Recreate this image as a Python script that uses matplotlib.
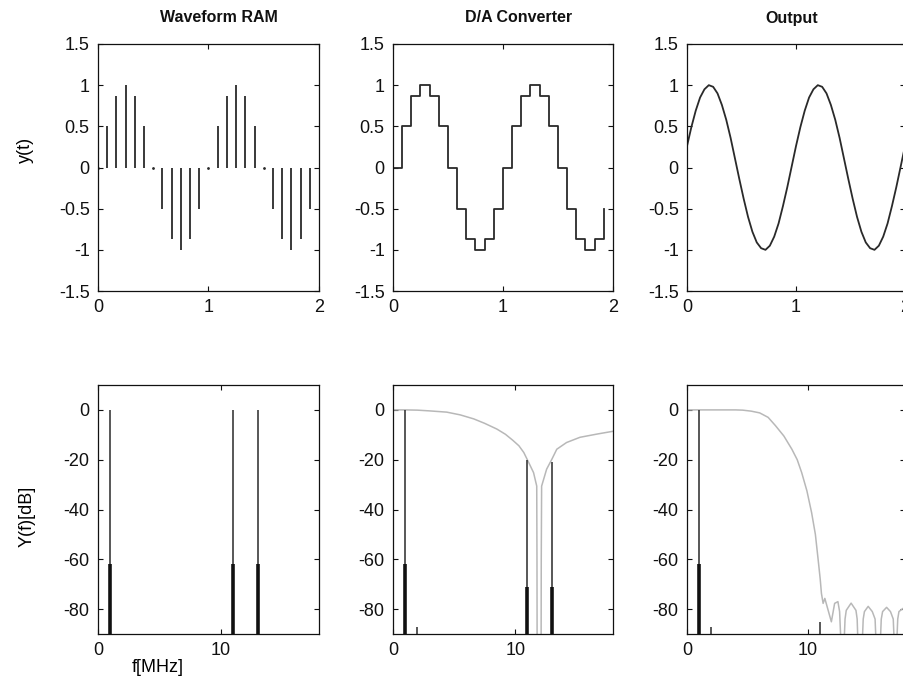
import matplotlib
matplotlib.use("Agg")
import matplotlib.pyplot as plt
import numpy as np

plt.rcParams['font.family'] = ['Liberation Sans', 'DejaVu Sans']
plt.rcParams['axes.unicode_minus'] = False

# ---------------- data ----------------
ram_t = [0.000, 0.083, 0.167, 0.250, 0.333, 0.417, 0.500, 0.583, 0.667, 0.750, 0.833, 0.917,
         1.000, 1.083, 1.167, 1.250, 1.333, 1.417, 1.500, 1.583, 1.667, 1.750, 1.833, 1.917]
ram_y = [0, 0.5, 0.87, 1, 0.87, 0.5, 0, -0.5, -0.87, -1, -0.87, -0.5,
         0, 0.5, 0.87, 1, 0.87, 0.5, 0, -0.5, -0.87, -1, -0.87, -0.5]

out_t = [0.00, 0.04, 0.08, 0.12, 0.16, 0.20, 0.24, 0.28, 0.32, 0.36, 0.40, 0.44, 0.48,
         0.52, 0.56, 0.60, 0.64, 0.68, 0.72, 0.76, 0.80, 0.84, 0.88, 0.92, 0.96,
         1.00, 1.04, 1.08, 1.12, 1.16, 1.20, 1.24, 1.28, 1.32, 1.36, 1.40, 1.44, 1.48,
         1.52, 1.56, 1.60, 1.64, 1.68, 1.72, 1.76, 1.80, 1.84, 1.88, 1.92, 1.96, 2.00]
out_y = [0.26, 0.49, 0.69, 0.85, 0.95, 1.00, 0.98, 0.90, 0.76, 0.58, 0.36, 0.11, -0.14,
         -0.38, -0.60, -0.78, -0.91, -0.98, -1.00, -0.95, -0.84, -0.68, -0.47, -0.24, 0.01,
         0.26, 0.49, 0.69, 0.85, 0.95, 1.00, 0.98, 0.90, 0.76, 0.58, 0.36, 0.11, -0.14,
         -0.38, -0.60, -0.78, -0.91, -0.98, -1.00, -0.95, -0.84, -0.68, -0.47, -0.24, 0.01, 0.26]

# spectral lines: frequency, peak level (thin line), level of heavy lower part
ram_spec_f = [1, 11, 13]
ram_spec_peak = [0, 0, 0]
ram_spec_heavy = [-62, -62, -62]

dac_spec_f = [1, 2, 11, 13]
dac_spec_peak = [0, -87, -20, -21]
dac_spec_heavy = [-62, -90, -71, -71]

out_spec_f = [1, 2, 11]
out_spec_peak = [0, -87, -85]
out_spec_heavy = [-62, -90, -90]

# D/A converter (sinc) response
dac_resp_f = [0, 1, 2, 3, 4.4, 5.5, 6.6, 7.5, 8.5, 9.2, 9.8, 10.3, 10.7, 11.1, 11.5, 11.76,
              11.78, 11.8, 11.95, 12.11, 12.13, 12.16, 12.57, 13.0, 13.4, 14.2, 15.3, 16.7, 17.75, 18]
dac_resp_db = [0, 0, -0.1, -0.4, -0.9, -2.0, -3.6, -5.4, -7.7, -9.8, -12.2, -14.4, -17.1, -21.1, -25.2, -30.6,
               -60, -120, -140, -120, -60, -30.6, -23.8, -19.8, -15.8, -13.1, -11.0, -9.7, -8.8, -8.6]

# Output (filtered) response
out_resp_f = [0, 2, 4, 4.6, 5.3, 6.0, 6.7, 7.3, 8.0, 8.66, 9.1, 9.47, 9.9, 10.29, 10.6, 10.83,
              11.0, 11.1, 11.24, 11.38, 11.65, 11.92, 12.19, 12.46, 12.6, 12.68, 12.84,
              13.0, 13.05, 13.15, 13.55, 13.95, 14.05, 14.09, 14.3,
              14.5, 14.55, 14.65, 14.96, 15.3, 15.53, 15.58, 15.8,
              15.99, 16.04, 16.15, 16.48, 16.8, 17.03, 17.08, 17.22,
              17.35, 17.4, 17.5, 17.9, 18]
out_resp_db = [0, 0, 0, -0.1, -0.5, -1.2, -3.0, -6.3, -10.5, -15.8, -20.0, -25.2, -32.5, -41.3, -50.0, -60.2,
               -68.0, -73.7, -77.7, -75.7, -80.4, -85.1, -77.7, -77.0, -81, -90, -130,
               -90, -84, -80.5, -77.6, -80.5, -84, -90, -130,
               -90, -84, -81, -78.9, -81, -84, -90, -130,
               -90, -84, -81, -79.3, -81, -84, -90, -130,
               -90, -84, -81, -79.5, -80]

titles = ['Waveform RAM', 'D/A Converter', 'Output']
time_ticks = [0, 1, 2]
time_yticks = [-1.5, -1, -0.5, 0, 0.5, 1, 1.5]
time_yticklabels = ['-1.5', '-1', '-0.5', '0', '0.5', '1', '1.5']
freq_ticks = [0, 10]
freq_yticks = [-80, -60, -40, -20, 0]

# ---------------- figure ----------------
W, H = 904, 679
fig = plt.figure(figsize=(W / 100, H / 100), dpi=100)

lefts = [98, 393, 687]
widths = [221, 220, 218]

def px_axes(l, t, w, h):
    return fig.add_axes([l / W, 1 - (t + h) / H, w / W, h / H])

top_axes = [px_axes(lefts[i], 44, widths[i], 247) for i in range(3)]
bot_axes = [px_axes(lefts[i], 385, widths[i], 249) for i in range(3)]

dark = '#2a2a2a'
gray = '#b8b8b8'
fs = 13

for ax in top_axes + bot_axes:
    ax.tick_params(direction='in', top=True, right=True, length=3.5, width=0.8,
                   labelsize=fs, pad=6, colors='#111111')
    for s in ax.spines.values():
        s.set_linewidth(0.9)
        s.set_color('#111111')

# top row
for ax in top_axes:
    ax.set_xlim(0, 2)
    ax.set_ylim(-1.5, 1.5)
    ax.set_xticks(time_ticks)
    ax.set_xticklabels([str(v) for v in time_ticks])
    ax.set_yticks(time_yticks)
    ax.set_yticklabels(time_yticklabels)

ax = top_axes[0]
ax.vlines(ram_t, 0, ram_y, color=dark, lw=1.3)
zt = [t for t, y in zip(ram_t, ram_y) if y == 0]
ax.plot(zt, [0] * len(zt), ls='none', marker='o', ms=1.0, color=dark)

ax = top_axes[1]
ax.step(ram_t, ram_y, where='post', color=dark, lw=1.3)

ax = top_axes[2]
ax.plot(out_t, out_y, color=dark, lw=1.3)

# bottom row
for ax in bot_axes:
    ax.set_xlim(0, 18)
    ax.set_ylim(-90, 10)
    ax.set_xticks(freq_ticks)
    ax.set_yticks(freq_yticks)
    ax.set_yticklabels([str(v) for v in freq_yticks])

def spectrum(ax, f, peak, heavy):
    ax.vlines(f, -90, peak, color=dark, lw=1.1)
    fh = [a for a, b in zip(f, heavy) if b > -90]
    hh = [b for b in heavy if b > -90]
    ax.vlines(fh, -90, hh, color='#111111', lw=2.6)

bot_axes[1].plot(dac_resp_f, dac_resp_db, color=gray, lw=1.1)
bot_axes[2].plot(out_resp_f, out_resp_db, color=gray, lw=1.1)
spectrum(bot_axes[0], ram_spec_f, ram_spec_peak, ram_spec_heavy)
spectrum(bot_axes[1], dac_spec_f, dac_spec_peak, dac_spec_heavy)
spectrum(bot_axes[2], out_spec_f, out_spec_peak, out_spec_heavy)

# titles
title_x = [0.548, 0.573, 0.48]
for ax, t, x in zip(top_axes, titles, title_x):
    ax.text(x, (291 - 18) / 247, t, transform=ax.transAxes, ha='center', va='center',
            fontsize=11.5, fontweight='bold', color='#111111')

# labels
top_axes[0].set_ylabel('y(t)', fontsize=fs)
top_axes[0].yaxis.set_label_coords((25 - 98) / 221, (291 - 150) / 247)
bot_axes[0].set_ylabel('Y(f)[dB]', fontsize=fs)
bot_axes[0].yaxis.set_label_coords((27 - 98) / 221, (634 - 516) / 249)
bot_axes[0].set_xlabel('f[MHz]', fontsize=fs)
bot_axes[0].xaxis.set_label_coords((158 - 98) / 221, (634 - 667) / 249)
bot_axes[0].xaxis.label.set_va('center')
top_axes[0].yaxis.label.set_va('center')
bot_axes[0].yaxis.label.set_va('center')

fig.savefig('out.png', dpi=100)
